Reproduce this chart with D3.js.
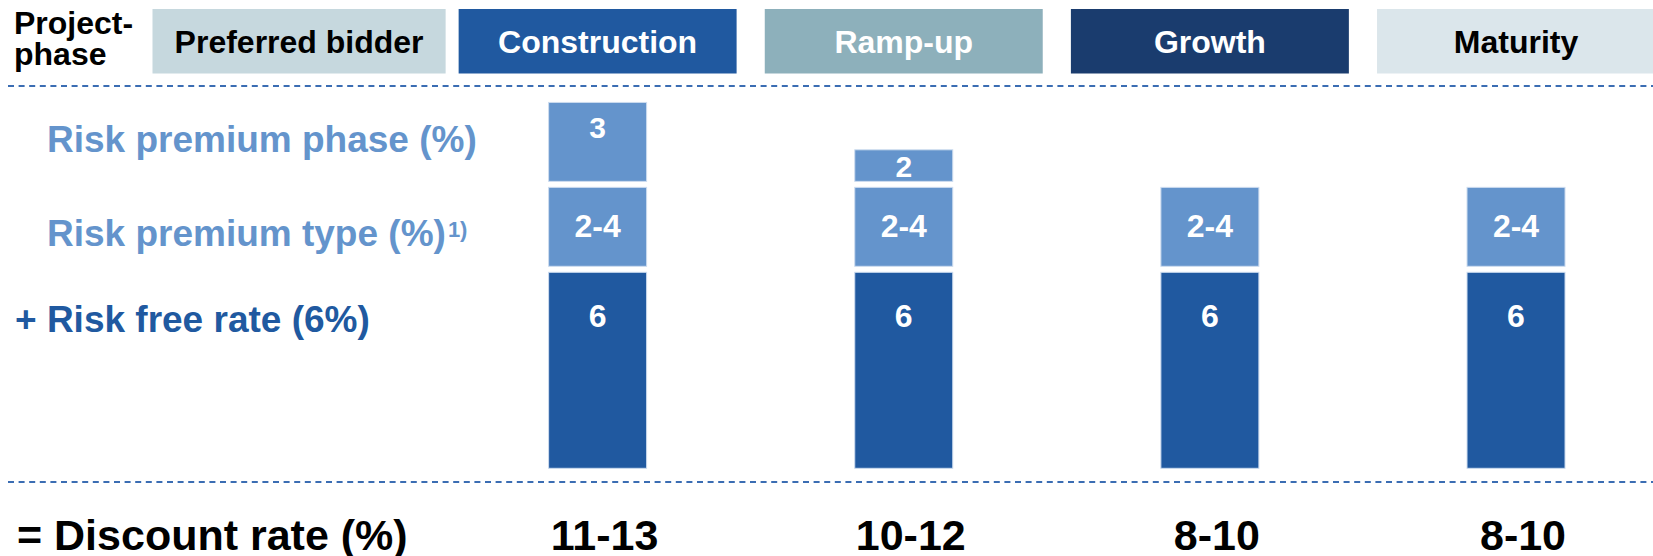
<!DOCTYPE html>
<html>
<head>
<meta charset="utf-8">
<script src="https://cdn.jsdelivr.net/npm/d3@7"></script>
<style>
  html, body { margin: 0; padding: 0; background: #ffffff; }
  svg { display: block; }
  text { font-family: "Liberation Sans", Arial, Helvetica, sans-serif; font-weight: bold; }
</style>
</head>
<body>
<svg id="chart" width="1653" height="556"></svg>
<script>
// ---------------- DATA ----------------
const phases = ["Preferred bidder", "Construction", "Ramp-up", "Growth", "Maturity"];
const barPhases = ["Construction", "Ramp-up", "Growth", "Maturity"];
// drawn extents of each stacked segment
const riskFree     = [6, 6, 6, 6];
const typePremium  = [2.6, 2.6, 2.6, 2.6];
const phasePremium = [2.6, 1.15, 0, 0];
// texts shown in the segments
const riskFreeLabels = ["6", "6", "6", "6"];
const typeLabels     = ["2-4", "2-4", "2-4", "2-4"];
const phaseLabels    = ["3", "2", "", ""];
const discountRates  = ["11-13", "10-12", "8-10", "8-10"];
const rowLabels = ["Risk premium phase (%)", "Risk premium type (%)", "+ Risk free rate (6%)"];

// ---------------- STYLE ----------------
const headerFill = d3.scaleOrdinal().domain(phases)
  .range(["#c6d8de", "#2059a0", "#8db0bb", "#1a3c6e", "#dbe6eb"]);
const headerText = d3.scaleOrdinal().domain(phases)
  .range(["#000000", "#ffffff", "#ffffff", "#ffffff", "#000000"]);
const segFill = d3.scaleOrdinal().domain(["rf", "type", "phase"])
  .range(["#2059a0", "#6494cc", "#6494cc"]);
const lightBlue = "#6494cc", darkBlue = "#2059a0", dashColor = "#3b6db3";

const svg = d3.select("#chart");
const W = 1653;

// ---------------- SCALES ----------------
const x = d3.scaleBand().domain(phases).range([152.5, 1655]).paddingInner(0.092).paddingOuter(0);
const y = d3.scaleLinear().domain([0, 6]).range([468.3, 272.3]);
const barW = 98, gap = 6;

// ---------------- HEADER ----------------
svg.append("text").attr("x", 14).attr("y", 34).attr("font-size", 32).attr("fill", "#000").text("Project-");
svg.append("text").attr("x", 14).attr("y", 65).attr("font-size", 32).attr("fill", "#000").text("phase");

// first header box stretches to just before the second one
const hdrX0 = d => x(d);
const hdrW = d => d === phases[0] ? x(phases[1]) - 13 - x(d) : x.bandwidth();

const hdr = svg.append("g").selectAll("g").data(phases).join("g");
hdr.append("rect")
  .attr("x", hdrX0).attr("y", 9)
  .attr("width", hdrW).attr("height", 64.5)
  .attr("fill", d => headerFill(d));
hdr.append("text")
  .attr("x", d => hdrX0(d) + hdrW(d) / 2).attr("y", 53)
  .attr("text-anchor", "middle").attr("font-size", 32)
  .attr("fill", d => headerText(d))
  .text(d => d);

// dashed separators
[86, 482].forEach(yy => {
  svg.append("line").attr("x1", 8).attr("x2", W).attr("y1", yy).attr("y2", yy)
    .attr("stroke", dashColor).attr("stroke-width", 2).attr("stroke-dasharray", "6,4.6");
});

// ---------------- ROW LABELS ----------------
svg.append("text").attr("x", 47).attr("y", 152).attr("font-size", 37).attr("fill", lightBlue).text(rowLabels[0]);
const t2 = svg.append("text").attr("x", 47).attr("y", 246).attr("font-size", 37).attr("fill", lightBlue);
t2.append("tspan").text(rowLabels[1]);
t2.append("tspan").attr("font-size", 22).attr("dy", -9).attr("dx", 2).text("1)");
svg.append("text").attr("x", 15).attr("y", 332).attr("font-size", 37).attr("fill", darkBlue).text(rowLabels[2]);

// ---------------- BARS ----------------
const stacks = barPhases.map((p, i) => {
  const segs = [];
  segs.push({ row: "rf", y0: 0, y1: riskFree[i], label: riskFreeLabels[i] });
  const t1 = riskFree[i] + typePremium[i];
  segs.push({ row: "type", y0: riskFree[i], y1: t1, label: typeLabels[i] });
  if (phasePremium[i] > 0) segs.push({ row: "phase", y0: t1, y1: t1 + phasePremium[i], label: phaseLabels[i] });
  return { phase: p, segs };
});

const barG = svg.append("g").selectAll("g").data(stacks).join("g")
  .attr("transform", d => `translate(${x(d.phase) + x.bandwidth() / 2 - barW / 2},0)`);

const seg = barG.selectAll("g").data(d => d.segs).join("g");
seg.append("rect")
  .attr("x", 0).attr("width", barW)
  .attr("y", d => y(d.y1))
  .attr("height", d => (y(d.y0) - (d.row === "rf" ? 0 : gap)) - y(d.y1))
  .attr("fill", d => segFill(d.row))
  .attr("stroke", "#cddcef").attr("stroke-width", 1);
seg.append("text")
  .attr("x", barW / 2)
  .attr("y", d => {
    const top = y(d.y1), h = (y(d.y0) - (d.row === "rf" ? 0 : gap)) - top;
    if (d.row === "rf") return top + 55;
    if (d.row === "phase") return top + Math.min(h / 2 + 11, 36);
    return top + h / 2 + 10;
  })
  .attr("text-anchor", "middle")
  .attr("font-size", d => d.row === "phase" ? 30 : 32)
  .attr("fill", "#ffffff")
  .text(d => d.label);

// ---------------- DISCOUNT RATE ----------------
svg.append("text").attr("x", 17).attr("y", 550).attr("font-size", 43).attr("fill", "#000").text("= Discount rate (%)");
svg.append("g").selectAll("text").data(barPhases).join("text")
  .attr("x", d => x(d) + x.bandwidth() / 2 + 7)
  .attr("y", 550)
  .attr("text-anchor", "middle").attr("font-size", 43).attr("fill", "#000")
  .text((d, i) => discountRates[i]);
</script>
</body>
</html>
